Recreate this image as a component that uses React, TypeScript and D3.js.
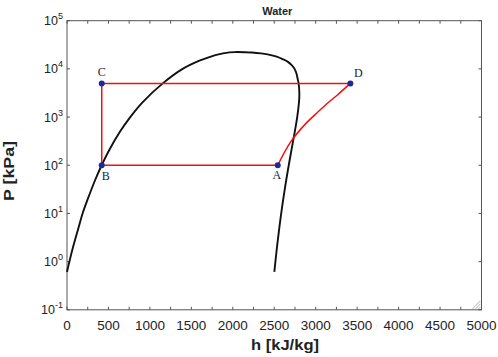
import React from "react";
import * as d3 from "d3";

// Saturation dome (liquid side, pressure kPa vs enthalpy kJ/kg)
const liqP = [0.61, 1, 2, 5, 10, 20, 50, 100, 200, 500, 1000, 2000, 5000, 10000, 15000, 18000, 20000, 21000, 22000, 22300];
const liqH = [0, 29, 73, 138, 188, 251, 341, 418, 505, 640, 763, 908, 1155, 1395, 1605, 1735, 1827, 1880, 1960, 2020];
// Vapor side (from the top down)
const vapP = [22200, 21900, 21000, 20000, 18000, 16000, 14000, 12000, 10000, 8000, 6000, 5000, 3000, 2000, 1000, 500, 200, 100, 50, 20, 10, 5, 2.7, 2, 1, 0.61];
const vapH = [2150, 2230, 2340, 2420, 2530, 2600, 2665, 2710, 2745, 2768, 2784, 2794, 2803, 2798, 2777, 2748, 2706, 2675, 2645, 2609, 2584, 2561, 2542, 2533, 2514, 2501];

// Cycle states A -> B -> C -> D
const stateNames = ["A", "B", "C", "D"];
const stateH = [2542, 419, 419, 3418];
const stateP = [100, 100, 5000, 5000];
// Path D -> A
const pathH = [3418, 3265, 3145, 3024, 2883, 2702, 2542];
const pathP = [5000, 2910, 1956, 1260, 740, 312, 100];

const xTickLabels = [0, 500, 1000, 1500, 2000, 2500, 3000, 3500, 4000, 4500, 5000];
const yTickExps = [5, 4, 3, 2, 1, 0, -1];

const W = 498, H = 357;
const L = 67, R = 481.5, T = 20.7, B = 309.8;

export default function App() {
  const x = d3.scaleLinear().domain([0, 5000]).range([L, R]);
  const y = d3.scaleLog().domain([0.1, 100000]).range([B, T]);

  const domePts: [number, number][] = [
    ...liqH.map((h, i) => [h, liqP[i]] as [number, number]),
    ...vapH.map((h, i) => [h, vapP[i]] as [number, number]),
  ];
  const dome = d3
    .line<[number, number]>()
    .x((d) => x(d[0]))
    .y((d) => y(d[1]))
    .curve(d3.curveCatmullRom.alpha(0.5))(domePts);

  const rectPts: [number, number][] = [
    [stateH[3], stateP[3]],
    [stateH[2], stateP[2]],
    [stateH[1], stateP[1]],
    [stateH[0], stateP[0]],
  ];
  const rectLine = d3
    .line<[number, number]>()
    .x((d) => x(d[0]))
    .y((d) => y(d[1]))(rectPts);
  const pathPts: [number, number][] = pathH.map((h, i) => [h, pathP[i]]);
  const compLine = d3
    .line<[number, number]>()
    .x((d) => x(d[0]))
    .y((d) => y(d[1]))
    .curve(d3.curveCatmullRom.alpha(0.5))(pathPts);

  const minorX = d3.range(0, 5001, 250);
  const labelOff: Record<string, [number, number]> = {
    A: [-1, 14],
    B: [4, 15],
    C: [0, -7],
    D: [8, -6],
  };

  return (
    <svg width={W} height={H} style={{ position: "absolute", left: 0, top: 0 }}>
      <rect x={0} y={0} width={W} height={H} fill="#fff" />
      <text x={(L + R) / 2 + 3} y={15} textAnchor="middle" fontFamily="Liberation Sans, Arial, sans-serif" fontWeight="bold" fontSize={11} fill="#222">
        Water
      </text>
      <rect x={L} y={T} width={R - L} height={B - T} fill="none" stroke="#555" strokeWidth={1} />
      {minorX.map((v) => (
        <g key={"xt" + v}>
          <line x1={x(v)} x2={x(v)} y1={B} y2={B - 3} stroke="#555" />
          <line x1={x(v)} x2={x(v)} y1={T} y2={T + 3} stroke="#555" />
        </g>
      ))}
      {yTickExps.map((e) => (
        <g key={"yt" + e}>
          <line x1={L} x2={L + 3} y1={y(Math.pow(10, e))} y2={y(Math.pow(10, e))} stroke="#555" />
          <line x1={R} x2={R - 3} y1={y(Math.pow(10, e))} y2={y(Math.pow(10, e))} stroke="#555" />
          <text x={63} y={y(Math.pow(10, e)) + 4.5} textAnchor="end" fontFamily="Liberation Sans, Arial, sans-serif" fontSize={12.5} fill="#222">
            10
            <tspan dy={-6} fontSize={9}>
              {e < 0 ? "-" + Math.abs(e) : String(e)}
            </tspan>
          </text>
        </g>
      ))}
      {xTickLabels.map((v) => (
        <text key={"xl" + v} x={x(v)} y={329.5} textAnchor="middle" fontFamily="Liberation Sans, Arial, sans-serif" fontSize={13.5} fill="#222">
          {v}
        </text>
      ))}
      <text x={251} y={350} fontFamily="Liberation Sans, Arial, sans-serif" fontWeight="bold" fontSize={15} textLength={68} lengthAdjust="spacingAndGlyphs" fill="#222">
        h [kJ/kg]
      </text>
      <text transform="translate(14,171) rotate(-90)" textAnchor="middle" fontFamily="Liberation Sans, Arial, sans-serif" fontWeight="bold" fontSize={15} textLength={60} lengthAdjust="spacingAndGlyphs" fill="#222">
        P [kPa]
      </text>
      {[0, 3, 6].map((o) => (
        <line key={"g" + o} x1={R - 1 - (8 - o)} y1={B - 1} x2={R - 1} y2={B - 1 - (8 - o)} stroke="#999" strokeWidth={0.8} />
      ))}
      <path d={dome || ""} fill="none" stroke="#111" strokeWidth={1.9} strokeLinejoin="round" />
      <path d={rectLine || ""} fill="none" stroke="#f01010" strokeWidth={1.5} strokeLinejoin="round" />
      <path d={compLine || ""} fill="none" stroke="#f01010" strokeWidth={1.5} strokeLinejoin="round" />
      {stateNames.map((n, i) => (
        <g key={n}>
          <circle cx={x(stateH[i])} cy={y(stateP[i])} r={3} fill="#1a2a9a" />
          <text x={x(stateH[i]) + labelOff[n][0]} y={y(stateP[i]) + labelOff[n][1]} textAnchor="middle" fontFamily="Liberation Serif, Times New Roman, serif" fontSize={12} fill="#1c1c3c">
            {n}
          </text>
        </g>
      ))}
    </svg>
  );
}
